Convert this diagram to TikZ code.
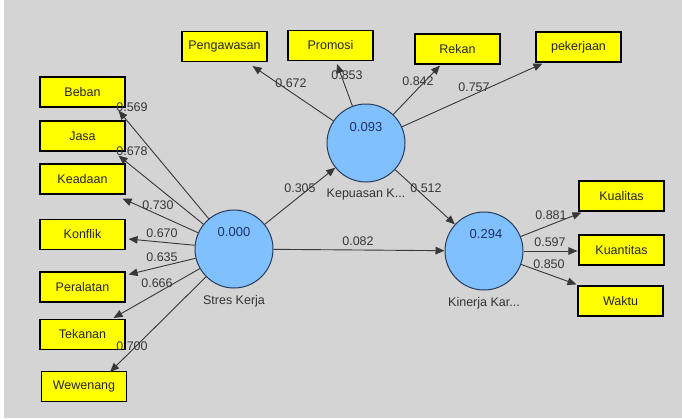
\documentclass[tikz,border=0pt]{standalone}
\usepackage{fontspec}
\setmainfont{Liberation Sans}
\usetikzlibrary{arrows.meta,calc,positioning}
\definecolor{bggray}{RGB}{212,212,212}
\definecolor{boxyellow}{RGB}{255,255,0}
\definecolor{latblue}{RGB}{128,192,255}
\definecolor{latedge}{RGB}{40,60,90}
\definecolor{latval}{RGB}{30,50,100}
\definecolor{linegray}{RGB}{55,55,55}
\definecolor{loadgray}{RGB}{55,55,55}
\begin{document}
\begin{tikzpicture}[x=1pt,y=1pt,yscale=-1,xscale=1,
	ind/.style={draw=black, line width=1.1pt, fill=boxyellow, minimum width=85pt, minimum height=30pt, inner sep=0pt, text=black!85, font=\fontsize{12.5}{14}\selectfont},
	lat/.style={circle, draw=latedge, line width=1pt, fill=latblue, minimum size=78pt, inner sep=0pt},
	latvalue/.style={text=latval, font=\fontsize{13}{15}\selectfont, inner sep=0pt},
	latname/.style={text=black!80, font=\fontsize{12.5}{14}\selectfont, inner sep=0pt},
	load/.style={text=loadgray, font=\fontsize{12.5}{14}\selectfont, inner sep=0pt},
	link/.style={draw=linegray, line width=0.9pt, -{Triangle[length=9pt,width=7.5pt]}}]
			\useasboundingbox (0,0) rectangle (682,418);
			%Shape: Rectangle [background]
			\fill [bggray] (4,0) rectangle (682,418);
			
			%Shape: Rectangle [indicators]
			\node [ind] (pengawasan) at (224.5,46.5) {Pengawasan};
			\node [ind] (promosi) at (330.5,45.5) {Promosi};
			\node [ind] (rekan) at (457.5,49) {Rekan};
			\node [ind] (pekerjaan) at (578.5,47) {pekerjaan};
			\node [ind] (beban) at (82.5,92) {Beban};
			\node [ind] (jasa) at (82.5,136) {Jasa};
			\node [ind] (keadaan) at (82.5,179) {Keadaan};
			\node [ind] (konflik) at (82.5,234.5) {Konflik};
			\node [ind] (peralatan) at (82.5,287) {Peralatan};
			\node [ind] (tekanan) at (82.5,334.5) {Tekanan};
			\node [ind] (wewenang) at (84,386.5) {Wewenang};
			\node [ind] (kualitas) at (621.5,196) {Kualitas};
			\node [ind] (kuantitas) at (621.5,250) {Kuantitas};
			\node [ind] (waktu) at (620.5,301) {Waktu};
			
			%Shape: Circle [constructs]
			\node [lat] (stres) at (234,249) {};
			\node [lat] (kepuasan) at (366,143) {};
			\node [lat] (kinerja) at (484,251) {};
			
			%Straight Lines [Stres Kerja]
			\draw [link] (stres) -- ($(beban.south east)+(-7,3)$);
			\draw [link] (stres) -- ($(jasa.south east)+(-7,4)$);
			\draw [link] (stres) -- ($(keadaan.south east)+(-3,4)$);
			\draw [link] (stres) -- ($(konflik.east)+(3,4.5)$);
			\draw [link] (stres) -- ($(peralatan.north east)+(3,3)$);
			\draw [link] (stres) -- ($(tekanan.north east)+(-12,-1)$);
			\draw [link] (stres) -- ($(wewenang.north east)+(-17,1)$);
			%Straight Lines [Kepuasan Kerja]
			\draw [link] (kepuasan) -- ($(pengawasan.south east)+(-15,4)$);
			\draw [link] (kepuasan) -- ($(promosi.south)+(6.5,3)$);
			\draw [link] (kepuasan) -- ($(rekan.south)+(-17.5,1)$);
			\draw [link] (kepuasan) -- ($(pekerjaan.south west)+(7,1)$);
			%Straight Lines [Kinerja Karyawan]
			\draw [link] (kinerja) -- ($(kualitas.south west)+(3,1)$);
			\draw [link] (kinerja) -- ($(kuantitas.west)+(-1,1)$);
			\draw [link] (kinerja) -- ($(waktu.north west)+(-1,-1)$);
			%Straight Lines [inner model]
			\draw [link] (stres) -- (kepuasan);
			\draw [link] (stres) -- (kinerja);
			\draw [link] (kepuasan) -- (kinerja);
			
			% Text Node
			\node [latvalue] (stresval) at ([yshift=-17pt]stres.center) {0.000};
			\node [latvalue] (kepuasanval) at ([yshift=-16pt]kepuasan.center) {0.093};
			\node [latvalue] (kinerjaval) at ([xshift=2pt,yshift=-17pt]kinerja.center) {0.294};
			% Text Node
			\node [latname, below=7pt of stres] (stresname) {Stres Kerja};
			\node [latname, below=6pt of kepuasan] (kepuasanname) {Kepuasan K...};
			\node [latname, below=7pt of kinerja] (kinerjaname) {Kinerja Kar...};
			
			% Text Node [loadings]
			\node [load] (lbeban) at (132,107) {0.569};
			\node [load] (ljasa) at (132,151) {0.678};
			\node [load] (lkeadaan) at (158,205) {0.730};
			\node [load] (lkonflik) at (162,233) {0.670};
			\node [load] (lperalatan) at (162,257) {0.635};
			\node [load] (ltekanan) at (157,283) {0.666};
			\node [load] (lwewenang) at (132,346) {0.700};
			\node [load] (lpengawasan) at (291,83) {0.672};
			\node [load] (lpromosi) at (347,75) {0.853};
			\node [load] (lrekan) at (418,81) {0.842};
			\node [load] (lpekerjaan) at (474,87) {0.757};
			\node [load] (lkualitas) at (551,215) {0.881};
			\node [load] (lkuantitas) at (550,242) {0.597};
			\node [load] (lwaktu) at (549,264) {0.850};
			% Text Node [paths]
			\node [load] (lsk) at (300,188) {0.305};
			\node [load] (lsi) at (358,241) {0.082};
			\node [load] (lki) at (426,188) {0.512};
			
		\end{tikzpicture}
\end{document}
